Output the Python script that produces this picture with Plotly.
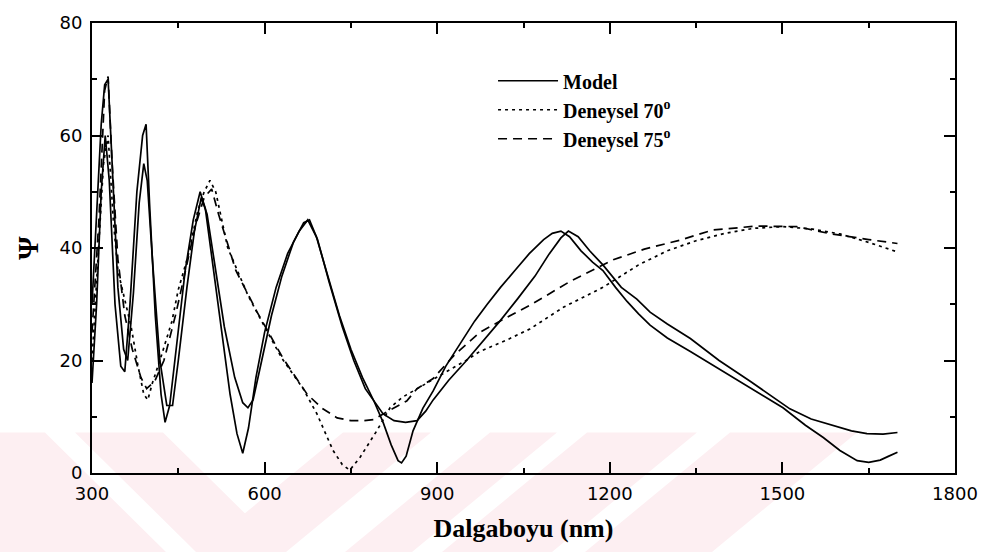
import plotly.graph_objects as go

# ---------------- data ----------------
model_a_x = [300, 308, 316, 323, 330, 340, 350, 357, 366, 378, 388, 394, 400, 410, 420, 427, 435, 448, 462, 476,
             488, 497, 510, 525, 540, 552, 562, 572, 585, 600, 620, 640, 660, 675, 690, 710, 730, 750, 770, 790,
             806, 820, 832, 838, 846, 858, 875, 893, 915, 940, 965, 987, 1010, 1035, 1060, 1085, 1100, 1115, 1130,
             1150, 1170, 1188, 1210, 1230, 1250, 1270, 1300, 1340, 1390, 1444, 1501, 1540, 1571, 1600, 1630, 1650,
             1670, 1685, 1700]
model_a_y = [16, 30, 50, 60, 52, 30, 19, 18, 30, 50, 60, 62, 48, 28, 14, 9, 12, 24, 36, 45,
             50, 47, 37, 25, 14, 7, 3.5, 8, 17, 25, 33, 39, 43, 45, 42, 35, 28, 22, 17, 12.8,
             9, 5, 2.2, 1.8, 3, 7.5, 11.5, 14.6, 19, 23, 27, 30, 33, 36, 39, 41.5, 42.6, 43, 42,
             39.5, 37.5, 36, 33, 30.5, 28.3, 26.3, 24, 21.6, 18.5, 15.1, 11.6, 8.5, 6.3, 4, 2.2, 1.9,
             2.3, 3, 3.7]

model_b_x = [300, 308, 316, 322, 328, 335, 345, 355, 362, 372, 382, 390, 396, 405, 418, 430, 440, 450, 465, 478,
             490, 500, 515, 530, 548, 562, 571, 580, 595, 612, 630, 650, 668, 678, 692, 712, 735, 755, 775, 790,
             806, 825, 845, 865, 880, 893, 920, 951, 980, 1009, 1040, 1070, 1095, 1115, 1128, 1145, 1165, 1188,
             1220, 1247, 1270, 1300, 1340, 1390, 1444, 1513, 1550, 1588, 1620, 1647, 1675, 1700]
model_b_y = [30, 45, 62, 69, 70, 55, 33, 22, 20, 32, 48, 55, 52, 38, 20, 12, 12, 20, 33, 43,
             49, 46, 36, 26, 17, 12.5, 11.6, 13, 20, 28, 35, 41, 44.5, 45, 41.5, 34, 26, 20, 15, 12.8,
             10.5, 9.3, 9, 9.3, 11, 13, 16.5, 20, 23.5, 27, 31, 35, 39, 41.8, 43, 42, 39.5, 37,
             33, 30.9, 28.6, 26.5, 23.9, 20, 16.3, 11.4, 9.6, 8.4, 7.5, 7, 6.9, 7.2]

d70_x = [300, 310, 320, 328, 337, 345, 357, 368, 380, 390, 397, 405, 421, 439, 450, 467, 484, 495, 505, 515,
         536, 571, 600, 630, 667, 691, 719, 735, 748, 766, 795, 818, 840, 865, 900, 950, 974, 1020, 1061, 1120,
         1188, 1250, 1300, 1350, 1400, 1450, 1500, 1550, 1600, 1650, 1700]
d70_y = [20, 38, 55, 60, 45, 36, 31, 26, 19, 14, 13, 16, 21, 27, 32.6, 38.6, 46.7, 50, 52, 50,
         40, 31.6, 26, 20.4, 15, 10.5, 4, 1.5, 0.5, 2.8, 7.5, 11.6, 13.5, 15, 17, 20, 21.6, 23.6, 25.6, 29.5,
         33, 37, 39.5, 41.3, 42.6, 43.5, 43.8, 43.4, 42.5, 41, 39.3]

d75_x = [300, 312, 322, 328, 335, 345, 357, 370, 385, 395, 409, 425, 445, 465, 480, 495, 508, 520, 550, 587,
         632, 674, 700, 726, 750, 771, 790, 806, 830, 847, 865, 893, 930, 974, 1020, 1061, 1130, 1206, 1260,
         1322, 1379, 1456, 1525, 1580, 1650, 1700]
d75_y = [25, 45, 68, 70.5, 55, 38, 28, 22, 17, 15, 16.3, 20, 28, 37, 44, 49, 50.5, 46, 36, 28.6,
         20.4, 14, 11.5, 9.8, 9.3, 9.3, 9.5, 10.5, 11.8, 12.8, 15, 16.8, 21, 25, 27.6, 29.8, 34, 37.9, 39.8,
         41.4, 43.2, 43.9, 43.8, 42.6, 41.5, 40.8]

series_names = ["Model", "Deneysel 70<sup>o</sup>", "Deneysel 75<sup>o</sup>"]
x_ticks = [300, 600, 900, 1200, 1500, 1800]
y_ticks = [0, 20, 40, 60, 80]

# ---------------- figure ----------------
W, H = 992, 553
ML, MR, MT, MB = 92, 37, 17, 80
PW, PH = W - ML - MR, H - MT - MB

fig = go.Figure()
line_w = 1.7
fig.add_trace(go.Scatter(x=model_a_x, y=model_a_y, mode="lines", name=series_names[0],
                         legendgroup="m", line=dict(color="black", width=line_w)))
fig.add_trace(go.Scatter(x=model_b_x, y=model_b_y, mode="lines", name=series_names[0],
                         legendgroup="m", showlegend=False, line=dict(color="black", width=line_w)))
fig.add_trace(go.Scatter(x=d70_x, y=d70_y, mode="lines", name=series_names[1],
                         line=dict(color="black", width=line_w, dash="3px,4px")))
fig.add_trace(go.Scatter(x=d75_x, y=d75_y, mode="lines", name=series_names[2],
                         line=dict(color="black", width=line_w, dash="9px,6px")))


def pp(px, py):
    return f"{(px - ML) / PW:.4f},{(H - MB - py) / PH:.4f}"


def band(top_l, top_r, shift, y0=432, y1=553):
    return ("M" + pp(top_l, y0) + " L" + pp(top_r, y0) + " L" + pp(top_r + shift, y1)
            + " L" + pp(top_l + shift, y1) + " Z")


pink = "#fdeff2"
shapes = []
# "\" stripes on the left
for tl, tr in [(-160, 45), (75, 163)]:
    shapes.append(dict(type="path", path=band(tl, tr, 121), xref="paper", yref="paper",
                       fillcolor=pink, line=dict(width=0), layer="below"))
# "/" stripes
for tl, tr in [(343, 431), (490, 557), (587, 697), (730, 857)]:
    shapes.append(dict(type="path", path=band(tl, tr, -145), xref="paper", yref="paper",
                       fillcolor=pink, line=dict(width=0), layer="below"))

tick_font = dict(family="DejaVu Sans", size=18, color="black")
fig.update_layout(
    width=W, height=H,
    margin=dict(l=ML, r=MR, t=MT, b=MB, pad=0),
    paper_bgcolor="white", plot_bgcolor="rgba(0,0,0,0)",
    shapes=shapes,
    showlegend=True,
    legend=dict(x=0.4647, y=0.915, xanchor="left", yanchor="top", itemwidth=60,
                bgcolor="rgba(0,0,0,0)", borderwidth=0, tracegroupgap=0,
                font=dict(family="Liberation Serif", size=20, color="black", weight="bold")),
    xaxis=dict(range=[300, 1800], tickvals=x_ticks, ticktext=[str(v) for v in x_ticks],
               ticks="inside", ticklen=11, tickwidth=1.5, tickcolor="black", ticklabelstandoff=3,
               showline=True, linewidth=2, linecolor="black", mirror="ticks",
               showgrid=False, zeroline=False, tickfont=tick_font,
               minor=dict(ticks="inside", ticklen=5, tickwidth=1.5, tickcolor="black", dtick=150,
                          tick0=300, showgrid=False),
               title=dict(text="Dalgaboyu (nm)", standoff=16,
                          font=dict(family="Liberation Serif", size=26, color="black", weight="bold"))),
    yaxis=dict(range=[0, 80], tickvals=y_ticks, ticktext=[str(v) for v in y_ticks],
               ticks="inside", ticklen=11, tickwidth=1.5, tickcolor="black", ticklabelstandoff=4,
               showline=True, linewidth=2, linecolor="black", mirror="ticks",
               showgrid=False, zeroline=False, tickfont=tick_font,
               minor=dict(ticks="inside", ticklen=5, tickwidth=1.5, tickcolor="black", dtick=10,
                          showgrid=False),
               title=dict(text="Ψ", standoff=12,
                          font=dict(family="Liberation Serif", size=30, color="black", weight="bold"))),
)

fig.write_html("out.html")
